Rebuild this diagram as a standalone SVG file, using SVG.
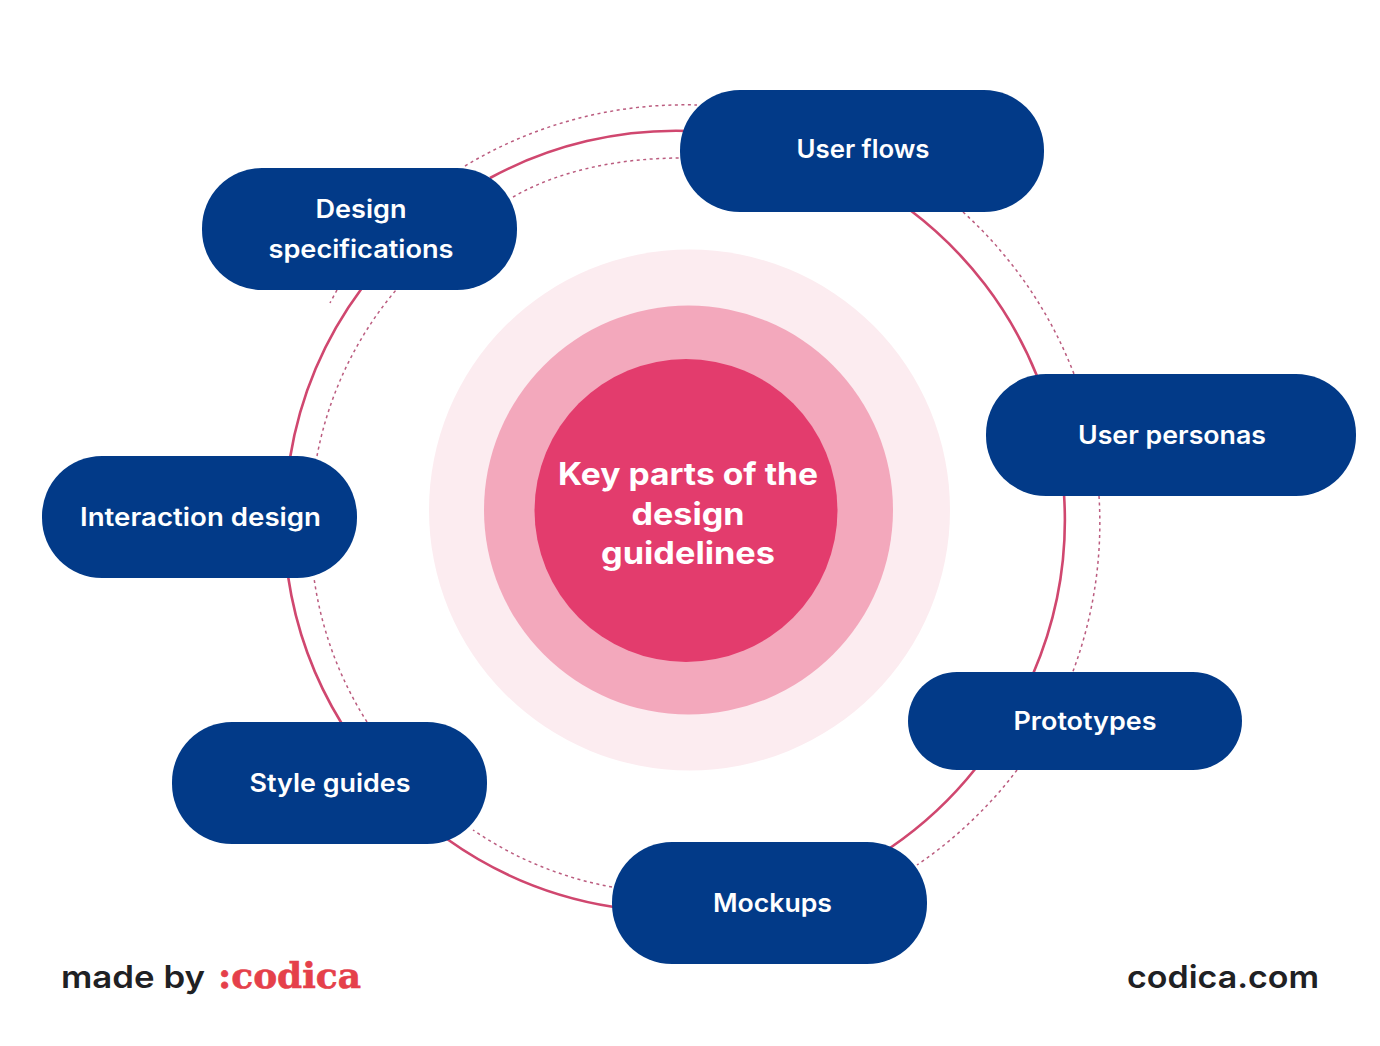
<svg xmlns="http://www.w3.org/2000/svg" width="1380" height="1046" viewBox="0 0 1380 1046">
<style>
.n{fill:#023a88}
.t{font-family:"Inter","Liberation Sans",sans-serif;font-weight:600;font-size:25px;fill:#fff;text-anchor:middle}
.c{font-family:"Inter","Liberation Sans",sans-serif;font-weight:700;font-size:31px;fill:#fff;text-anchor:middle}
.s{fill:none;stroke:#d0476f;stroke-width:2.6}
.d{fill:none;stroke:#bb5c7f;stroke-width:1.5;stroke-dasharray:3 3.500}
.f{font-family:"Inter","Liberation Sans",sans-serif;font-weight:600;font-size:31px;fill:#1f2124}
</style>
<rect width="1380" height="1046" fill="#fff"/>
<g id="connectors">
<path class="s" d="M490 178A390 390 0 0 1 690 131"/>
<path class="s" d="M910 210A390 390 0 0 1 1037 376"/>
<path class="s" d="M1064 494A390 390 0 0 1 1033 674"/>
<path class="s" d="M976 768A390 390 0 0 1 890 848"/>
<path class="s" d="M614 907A390 390 0 0 1 447 839"/>
<path class="s" d="M342 724A390 390 0 0 1 288 576"/>
<path class="s" d="M290 458A390 390 0 0 1 362 288"/>
<path class="d" d="M465 166A425 425 0 0 1 697 105"/>
<path class="d" d="M513 197C560 170 620 158 682 158"/>
<path class="d" d="M963 212A425 425 0 0 1 1074 374"/>
<path class="d" d="M1099 496A425 425 0 0 1 1072 674"/>
<path class="d" d="M1017 770A425 425 0 0 1 917 865"/>
<path class="d" d="M612 887A362 362 0 0 1 473 830"/>
<path class="d" d="M367 722A362 362 0 0 1 314 578"/>
<path class="d" d="M317 456A362 362 0 0 1 396 290"/>
<path class="d" d="M337 290L330 303"/>
</g>
<g id="center">
<circle cx="689.500" cy="510" r="260.500" fill="#fcecf0"/>
<circle cx="688.500" cy="510" r="204.500" fill="#f3a8bc"/>
<circle cx="686" cy="510.500" r="151.500" fill="#e33c6d"/>
<text class="c" x="688" y="485" textLength="260" lengthAdjust="spacingAndGlyphs">Key parts of the</text>
<text class="c" x="688" y="525" textLength="113" lengthAdjust="spacingAndGlyphs">design</text>
<text class="c" x="688" y="564" textLength="174" lengthAdjust="spacingAndGlyphs">guidelines</text>
</g>
<g id="user-flows"><rect class="n" x="680" y="90" width="364" height="122" rx="60"/><text class="t" x="863" y="158" textLength="133" lengthAdjust="spacingAndGlyphs">User flows</text></g>
<g id="design-specifications"><rect class="n" x="202" y="168" width="315" height="122" rx="60"/><text class="t" x="361" y="218" textLength="91" lengthAdjust="spacingAndGlyphs">Design</text><text class="t" x="361" y="258" textLength="185" lengthAdjust="spacingAndGlyphs">specifications</text></g>
<g id="user-personas"><rect class="n" x="986" y="374" width="370" height="122" rx="60"/><text class="t" x="1172" y="444" textLength="188" lengthAdjust="spacingAndGlyphs">User personas</text></g>
<g id="interaction-design"><rect class="n" x="42" y="456" width="315" height="122" rx="60"/><text class="t" x="200.500" y="526" textLength="241" lengthAdjust="spacingAndGlyphs">Interaction design</text></g>
<g id="prototypes"><rect class="n" x="908" y="672" width="334" height="98" rx="49"/><text class="t" x="1085" y="730" textLength="143" lengthAdjust="spacingAndGlyphs">Prototypes</text></g>
<g id="style-guides"><rect class="n" x="172" y="722" width="315" height="122" rx="60"/><text class="t" x="330" y="792" textLength="161" lengthAdjust="spacingAndGlyphs">Style guides</text></g>
<g id="mockups"><rect class="n" x="612" y="842" width="315" height="122" rx="60"/><text class="t" x="772.500" y="912" textLength="119" lengthAdjust="spacingAndGlyphs">Mockups</text></g>
<g id="footer">
<text class="f" x="61" y="988" textLength="144" lengthAdjust="spacingAndGlyphs">made by</text>
<text x="218" y="988" textLength="143" lengthAdjust="spacingAndGlyphs" style="font-family:'DejaVu Serif','Liberation Serif',serif;font-weight:700;font-size:36px;fill:#e5404a;stroke:#e5404a;stroke-width:.6">:codica</text>
<text class="f" x="1127" y="988" textLength="192" lengthAdjust="spacingAndGlyphs">codica.com</text>
</g>
</svg>
